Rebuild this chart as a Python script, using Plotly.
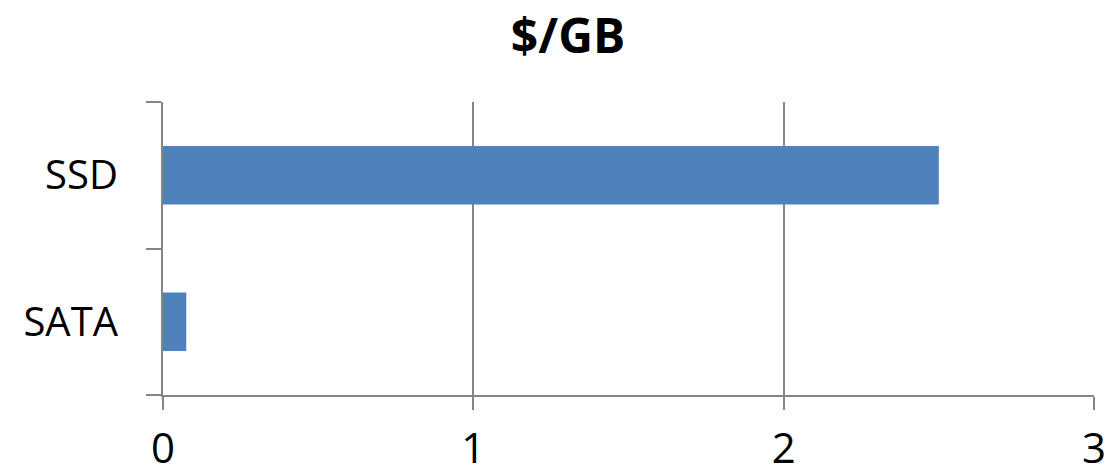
import plotly.graph_objects as go

categories = ["SATA", "SSD"]
values = [0.075, 2.5]
x_ticks = [0, 1, 2, 3]
title_text = "$/GB"

axis_color = "#868686"
font_family = "Open Sans, Liberation Sans, sans-serif"

fig = go.Figure(
    go.Bar(
        x=values,
        y=categories,
        orientation="h",
        width=0.4,
        marker=dict(color="#4F81BD", line=dict(width=0)),
    )
)

fig.update_layout(
    width=1109,
    height=476,
    margin=dict(l=163, r=15, t=102, b=81, autoexpand=False),
    paper_bgcolor="white",
    plot_bgcolor="white",
    showlegend=False,
    title=dict(
        text=f"<b>{title_text}</b>",
        font=dict(family=font_family, size=48, color="black"),
        x=568 / 1109,
        xanchor="center",
        xref="container",
        yref="container",
        y=1 - 36 / 476,
        yanchor="middle",
        automargin=False,
    ),
    font=dict(family=font_family, color="black"),
)

fig.update_xaxes(
    range=[0, 3],
    tickvals=x_ticks,
    ticktext=[str(t) for t in x_ticks],
    showgrid=True,
    gridcolor=axis_color,
    gridwidth=1.5,
    showline=True,
    linecolor=axis_color,
    linewidth=2,
    ticks="outside",
    ticklen=13,
    tickwidth=1.5,
    tickcolor=axis_color,
    ticklabelstandoff=3,
    tickfont=dict(size=42, family=font_family, color="black"),
    zeroline=False,
    automargin=False,
    fixedrange=True,
)

fig.update_yaxes(
    type="category",
    categoryorder="array",
    categoryarray=categories,
    range=[-0.5, 1.5],
    tickson="boundaries",
    showgrid=False,
    showline=True,
    linecolor=axis_color,
    linewidth=2,
    ticks="outside",
    ticklen=15,
    tickwidth=1.5,
    tickcolor=axis_color,
    ticklabelstandoff=35,
    tickfont=dict(size=40, family=font_family, color="black"),
    automargin=False,
    fixedrange=True,
)

fig.write_html("out.html")
